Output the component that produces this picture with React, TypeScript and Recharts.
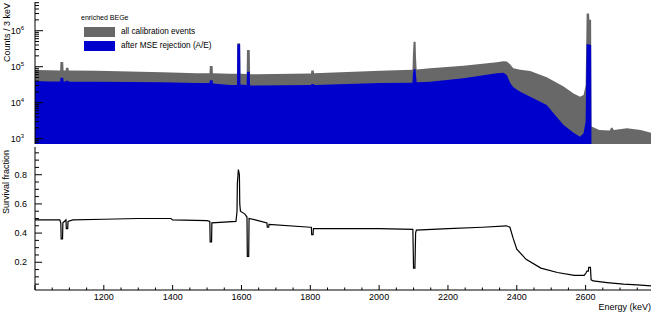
import { ComposedChart, Area, Line, XAxis, YAxis, Legend } from "recharts";

// energy (keV) sampled along the spectrum, with peak edges doubled up
const energyTop = [
  1000, 1040, 1073, 1074, 1082, 1083, 1089, 1090, 1097, 1098, 1180, 1370, 1470, 1507, 1508, 1516, 1517,
  1567, 1587, 1588, 1596, 1597, 1615, 1616, 1624, 1625, 1645, 1800, 1802, 1803, 1810, 1811, 2003, 2097,
  2098, 2100, 2106, 2107, 2109, 2148, 2245, 2342, 2361, 2371, 2381, 2390, 2410, 2439, 2487, 2507, 2536,
  2565, 2584, 2594, 2600, 2603, 2610, 2611, 2616, 2617, 2640, 2670, 2674, 2678, 2682, 2720, 2760, 2790,
];
const allEvents = [
  8.1e4, 8.0e4, 7.9e4, 1.35e5, 1.35e5, 7.9e4, 7.9e4, 9.4e4, 9.4e4, 7.8e4, 7.7e4, 7.0e4, 6.6e4, 6.6e4, 1.05e5, 1.05e5, 6.6e4,
  6.4e4, 6.4e4, 4.5e5, 4.5e5, 6.4e4, 6.3e4, 2.9e5, 2.9e5, 6.2e4, 6.2e4, 6.5e4, 6.5e4, 7.8e4, 7.8e4, 6.6e4, 7.7e4, 8.2e4,
  1.9e5, 4.9e5, 4.9e5, 1.9e5, 8.3e4, 9.0e4, 1.07e5, 1.32e5, 1.42e5, 1.4e5, 1.15e5, 9.0e4, 8.2e4, 7.6e4, 5.1e4, 4.0e4, 2.8e4,
  1.8e4, 1.47e4, 1.64e4, 3.0e4, 3.0e6, 3.0e6, 2.0e6, 2.0e6, 2.2e3, 1.75e3, 1.68e3, 2.0e3, 2.0e3, 1.75e3, 1.95e3, 1.75e3, 1.47e3,
];
const afterMse = [
  4.0e4, 3.9e4, 3.9e4, 4.9e4, 4.9e4, 3.9e4, 3.9e4, 4.1e4, 4.1e4, 3.8e4, 3.8e4, 3.7e4, 3.5e4, 3.5e4, 4.2e4, 4.2e4, 3.4e4,
  3.1e4, 3.1e4, 4.2e5, 4.2e5, 3.2e4, 3.1e4, 7.3e4, 7.3e4, 3.0e4, 3.0e4, 3.1e4, 3.1e4, 3.3e4, 3.3e4, 3.1e4, 3.5e4, 3.6e4,
  6.0e4, 8.5e4, 8.5e4, 6.0e4, 3.7e4, 3.8e4, 4.8e4, 6.6e4, 6.8e4, 5.9e4, 3.5e4, 2.7e4, 2.0e4, 1.47e4, 8.6e3, 5.1e3, 2.4e3,
  1.47e3, 1.14e3, 1.41e3, 3.0e3, 4.2e5, 4.2e5, 4.1e5, 4.1e5, 713, 713, 713, 713, 713, 713, 713, 713, 713,
];

const energySf = [
  1000, 1072, 1075, 1076, 1080, 1081, 1090, 1091, 1095, 1096, 1110, 1200, 1300, 1395, 1400, 1500, 1508, 1509,
  1513, 1514, 1584, 1587, 1588, 1591, 1594, 1595, 1597, 1610, 1616, 1617, 1621, 1622, 1640, 1674, 1675, 1679,
  1680, 1800, 1803, 1804, 1808, 1809, 2000, 2098, 2100, 2104, 2106, 2108, 2200, 2300, 2370, 2380, 2390, 2400,
  2427, 2470, 2518, 2567, 2596, 2602, 2604, 2608, 2609, 2614, 2616, 2622, 2662, 2710, 2750, 2790,
];
const survival = [
  0.49, 0.49, 0.47, 0.36, 0.36, 0.47, 0.49, 0.43, 0.43, 0.48, 0.49, 0.495, 0.5, 0.5, 0.49, 0.485, 0.48, 0.34,
  0.34, 0.47, 0.48, 0.55, 0.74, 0.835, 0.8, 0.6, 0.55, 0.53, 0.51, 0.24, 0.24, 0.5, 0.49, 0.47, 0.44, 0.44,
  0.46, 0.44, 0.44, 0.39, 0.39, 0.43, 0.43, 0.425, 0.16, 0.16, 0.4, 0.42, 0.43, 0.44, 0.45, 0.44, 0.36, 0.29,
  0.22, 0.16, 0.13, 0.11, 0.11, 0.13, 0.14, 0.14, 0.165, 0.165, 0.08, 0.072, 0.061, 0.05, 0.045, 0.038,
];

const countDecades = [1e3, 1e4, 1e5, 1e6];
const energyLabels = [1200, 1400, 1600, 1800, 2000, 2200, 2400, 2600];
const sfLabels = [0.2, 0.4, 0.6, 0.8];

const seriesNames = ["all calibration events", "after MSE rejection (A/E)"];
const GRAY = "#686868";
const BLUE = "#0000cc";
const FONT = "'Liberation Sans', Arial, Helvetica, sans-serif";

const X_DOMAIN: [number, number] = [1000, 2790];
const COUNT_DOMAIN: [number, number] = [713, 6.27e6];
const SF_DOMAIN: [number, number] = [0.01, 0.99];

const topData = energyTop.map((e, i) => ({ e, all: allEvents[i], mse: afterMse[i] }));
const sfData = energySf.map((e, i) => ({ e, sf: survival[i] }));

// tick positions (major + minor, ROOT style)
const energyTicks = Array.from({ length: 36 }, (_, i) => 1000 + 50 * i);
const countTicks = [100, 1e3, 1e4, 1e5, 1e6]
  .flatMap((d) => [1, 2, 3, 4, 5, 6, 7, 8, 9].map((m) => m * d))
  .filter((v) => v >= COUNT_DOMAIN[0] && v <= COUNT_DOMAIN[1]);
const sfTicks = Array.from({ length: 19 }, (_, i) => Math.round((i + 1) * 5) / 100);

function CountTick({ x, y, payload }: any) {
  const v = payload.value;
  const major = countDecades.includes(v);
  return (
    <g>
      <line x1={x} x2={x + (major ? 8 : 4)} y1={y} y2={y} stroke="#000" />
      {major && (
        <text x={x - 11} y={y + 3.5} textAnchor="end" fontSize={9} fill="#000" fontFamily={FONT}>
          10<tspan dy={-4} fontSize={6}>{Math.round(Math.log10(v))}</tspan>
        </text>
      )}
    </g>
  );
}

function SfTick({ x, y, payload }: any) {
  const v = payload.value;
  const major = sfLabels.includes(v);
  return (
    <g>
      <line x1={x} x2={x + (major ? 7 : 4)} y1={y} y2={y} stroke="#000" />
      {major && (
        <text x={x - 8} y={y + 3.2} textAnchor="end" fontSize={9} fill="#000" fontFamily={FONT}>
          {v.toFixed(1)}
        </text>
      )}
    </g>
  );
}

const makeEnergyTick = (dir: number, labels: boolean) =>
  function EnergyTick({ x, y, payload }: any) {
    const v = payload.value;
    const major = (v - 1000) % 200 === 0;
    return (
      <g>
        <line x1={x} x2={x} y1={y} y2={y + dir * (major ? 5 : 2.5)} stroke="#000" />
        {labels && energyLabels.includes(v) && (
          <text x={x} y={y + 9.5} textAnchor="middle" fontSize={9} fill="#000" fontFamily={FONT}>
            {v}
          </text>
        )}
      </g>
    );
  };

const UpTick = makeEnergyTick(-1, false);
const UpTickLabelled = makeEnergyTick(-1, true);
const DownTick = makeEnergyTick(1, false);

const axisTitle = (text: string, dx: number, dy: number, size = 9) =>
  function Title({ viewBox }: any) {
    return (
      <text
        transform={`translate(${viewBox.x + dx}, ${viewBox.y + dy}) rotate(-90)`}
        textAnchor="end"
        fontSize={size}
        fill="#000"
        fontFamily={FONT}
      >
        {text}
      </text>
    );
  };

function EnergyTitle({ viewBox }: any) {
  return (
    <text x={viewBox.x + viewBox.width} y={viewBox.y + 19.5} textAnchor="end" fontSize={9} fill="#000" fontFamily={FONT}>
      Energy (keV)
    </text>
  );
}

function LegendBox() {
  const colors = [GRAY, BLUE];
  return (
    <div style={{ position: "relative", width: 200, height: 45, fontFamily: FONT, color: "#000" }}>
      <div style={{ position: "absolute", left: 0, top: 1, fontSize: 7, lineHeight: "9px", whiteSpace: "nowrap" }}>
        enriched BEGe
      </div>
      {seriesNames.map((name, i) => (
        <div key={name}>
          <div
            style={{
              position: "absolute",
              left: 3,
              top: 15 + i * 13.5,
              width: 31,
              height: 10,
              background: colors[i],
            }}
          />
          <div
            style={{
              position: "absolute",
              left: 40,
              top: 15 + i * 13.5,
              fontSize: 8.2,
              lineHeight: "10px",
              whiteSpace: "nowrap",
            }}
          >
            {name}
          </div>
        </div>
      ))}
    </div>
  );
}

export default function App() {
  const axisZ: any = { zIndex: 1000 };
  return (
    <div style={{ position: "absolute", left: 0, top: 0, width: 654, height: 314, background: "#fff" }}>
      <div style={{ position: "absolute", left: 0, top: 0 }}>
        <ComposedChart width={654} height={144} data={topData} margin={{ top: 2, right: 3, bottom: 0, left: 0 }}>
          <Area yAxisId="l" dataKey="all" name={seriesNames[0]} type="linear" baseValue={COUNT_DOMAIN[0]} fill={GRAY} fillOpacity={1} stroke="none" isAnimationActive={false} />
          <Area yAxisId="l" dataKey="mse" name={seriesNames[1]} type="linear" baseValue={COUNT_DOMAIN[0]} fill={BLUE} fillOpacity={1} stroke="none" isAnimationActive={false} />
          <XAxis
            {...axisZ}
            dataKey="e"
            type="number"
            domain={X_DOMAIN}
            allowDataOverflow
            ticks={energyTicks}
            interval={0}
            height={0}
            tickSize={0}
            tickMargin={0}
            tickLine={false}
            tick={UpTick}
            axisLine={{ stroke: "#000" }}
          />
          <XAxis {...axisZ} xAxisId="top" dataKey="e" type="number" domain={X_DOMAIN} orientation="top" height={0} tick={false} tickLine={false} axisLine={{ stroke: "#000" }} />
          <YAxis
            {...axisZ}
            yAxisId="l"
            type="number"
            scale="log"
            domain={COUNT_DOMAIN}
            allowDataOverflow
            ticks={countTicks}
            interval={0}
            width={35}
            tickSize={0}
            tickMargin={0}
            tickLine={false}
            tick={CountTick}
            axisLine={{ stroke: "#000" }}
            label={axisTitle("Counts / 3 keV", 10, 1)}
          />
          <YAxis
            {...axisZ}
            yAxisId="r"
            orientation="right"
            domain={COUNT_DOMAIN}
            width={0}
            tick={false}
            tickLine={false}
            axisLine={{ stroke: "#000" }}
            label={axisTitle("GERDA 18-06", -1.5, 13, 6.3)}
          />
          <Legend
            layout="horizontal"
            verticalAlign="middle"
            wrapperStyle={{ left: 81, top: 12, width: 200, height: 45 }}
            content={() => <LegendBox />}
          />
        </ComposedChart>
      </div>
      <div style={{ position: "absolute", left: 0, top: 144 }}>
        <ComposedChart width={654} height={170} data={sfData} margin={{ top: 3, right: 3, bottom: 0, left: 0 }}>
          <XAxis
            dataKey="e"
            type="number"
            domain={X_DOMAIN}
            allowDataOverflow
            ticks={energyTicks}
            interval={0}
            height={24}
            tickSize={0}
            tickMargin={0}
            tickLine={false}
            tick={UpTickLabelled}
            axisLine={{ stroke: "#000" }}
            label={EnergyTitle}
          />
          <XAxis
            xAxisId="top"
            dataKey="e"
            type="number"
            domain={X_DOMAIN}
            orientation="top"
            ticks={energyTicks}
            interval={0}
            height={0}
            tickSize={0}
            tickMargin={0}
            tickLine={false}
            tick={DownTick}
            axisLine={{ stroke: "#000" }}
          />
          <YAxis
            yAxisId="l"
            type="number"
            domain={SF_DOMAIN}
            allowDataOverflow
            ticks={sfTicks}
            interval={0}
            width={35}
            tickSize={0}
            tickMargin={0}
            tickLine={false}
            tick={SfTick}
            axisLine={{ stroke: "#000" }}
            label={axisTitle("Survival fraction", 8.5, 3)}
          />
          <YAxis yAxisId="r" orientation="right" domain={SF_DOMAIN} width={0} tick={false} tickLine={false} axisLine={{ stroke: "#000" }} />
          <Line yAxisId="l" dataKey="sf" type="linear" stroke="#000" strokeWidth={1.2} dot={false} isAnimationActive={false} />
        </ComposedChart>
      </div>
    </div>
  );
}
